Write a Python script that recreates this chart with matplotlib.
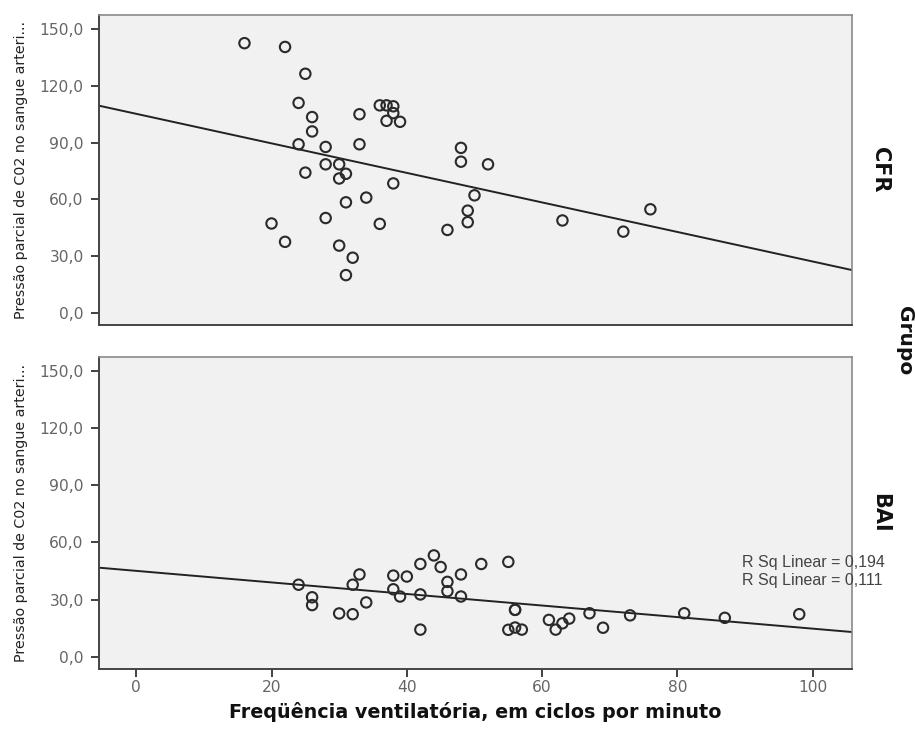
import numpy as np
import matplotlib
matplotlib.use("Agg")
import matplotlib.pyplot as plt
from matplotlib.ticker import FuncFormatter

plt.rcParams['font.family'] = ['DejaVu Sans']

# Frequência ventilatória (ciclos/min) e PaCO2 por grupo
cfr_freq = [16, 22, 25, 24, 26, 26, 24, 28, 33, 33, 36, 37, 38, 38, 37, 39,
            48, 48, 52, 28, 30, 25, 31, 30, 38, 50, 34, 31, 49, 49, 28, 36,
            46, 20, 22, 30, 32, 31, 63, 72, 76]
cfr_paco2 = [142.6, 140.6, 126.4, 111.0, 103.5, 95.9, 89.1, 87.7, 105.0, 89.1,
             109.7, 109.7, 109.2, 105.6, 101.5, 101.0, 87.2, 79.9, 78.5, 78.5,
             78.5, 74.1, 73.5, 71.0, 68.4, 62.1, 60.9, 58.4, 54.0, 47.9, 50.1,
             47.0, 43.8, 47.2, 37.5, 35.5, 29.1, 19.9, 48.8, 42.9, 54.7]

bai_freq = [24, 26, 26, 30, 32, 32, 33, 34, 38, 40, 38, 39, 42, 42, 42, 44,
            45, 46, 46, 48, 48, 51, 55, 56, 56, 55, 56, 57, 61, 62, 63, 64,
            67, 69, 73, 81, 87, 98]
bai_paco2 = [37.8, 31.2, 27.1, 22.7, 22.3, 37.8, 43.2, 28.5, 42.6, 42.1, 35.4,
             31.6, 48.7, 32.7, 14.2, 53.2, 47.1, 39.3, 34.4, 43.2, 31.6, 48.7,
             49.8, 24.6, 24.6, 14.1, 15.3, 14.2, 19.3, 14.2, 17.5, 20.0, 22.8,
             15.2, 21.7, 22.8, 20.4, 22.3]

groups = ["CFR", "BAI"]
rsq_labels = ["R Sq Linear = 0,194", "R Sq Linear = 0,111"]
x_ticks = [0, 20, 40, 60, 80, 100]
y_ticks = [0, 30, 60, 90, 120, 150]

W, H = 915, 739
fig = plt.figure(figsize=(W / 100, H / 100), dpi=100)
fig.patch.set_facecolor("white")

def px_axes(left, top, right, bottom):
    return fig.add_axes([left / W, 1 - bottom / H, (right - left) / W, (bottom - top) / H])

ax_top = px_axes(99, 15, 852, 325)
ax_bot = px_axes(99, 357, 852, 669)

xlim = (-5.5, 105.8)
ylim = (-6.5, 157.5)
comma = FuncFormatter(lambda v, p: f"{v:.1f}".replace(".", ","))

for ax, xs, ys, name in [(ax_top, cfr_freq, cfr_paco2, groups[0]),
                         (ax_bot, bai_freq, bai_paco2, groups[1])]:
    ax.set_facecolor("#f1f1f1")
    ax.scatter(xs, ys, s=56, facecolors="none", edgecolors="#2a2a2a",
               linewidths=1.5, zorder=3)
    slope, intercept = np.polyfit(xs, ys, 1)
    lx = np.array(xlim)
    ax.plot(lx, intercept + slope * lx, color="#222222", lw=1.4, zorder=2)
    ax.set_xlim(*xlim)
    ax.set_ylim(*ylim)
    ax.set_yticks(y_ticks)
    ax.yaxis.set_major_formatter(comma)
    ax.set_xticks(x_ticks)
    ax.tick_params(axis="both", direction="out", length=6, width=1.3,
                   color="#333333", labelcolor="#666666", labelsize=11.2, pad=5)
    ax.tick_params(axis="x", pad=2)
    for side in ["top", "right"]:
        ax.spines[side].set_color("#8a8a8a")
        ax.spines[side].set_linewidth(1.2)
    for side in ["left", "bottom"]:
        ax.spines[side].set_color("#444444")
        ax.spines[side].set_linewidth(1.4)
    ax.set_ylabel("Pressão parcial de C02 no sangue arteri...", fontsize=10.3,
                  color="#222222", labelpad=8)
    ax.text(1.024, 0.5, name, transform=ax.transAxes, rotation=-90,
            ha="left", va="center", fontsize=15, fontweight="bold", color="#111111")

ax_top.tick_params(axis="x", bottom=False, labelbottom=False)
ax_bot.set_xlabel("Freqüência ventilatória, em ciclos por minuto", fontsize=13.8,
                  fontweight="bold", color="#111111", labelpad=5)

fig.text(905 / W, 1 - 341 / H, "Grupo", rotation=-90, ha="center", va="center",
         fontsize=14.5, fontweight="bold", color="#111111")

rsq_font = ['Liberation Sans', 'DejaVu Sans']
fig.text(742 / W, 1 - 563 / H, rsq_labels[0], ha="left", va="center",
         fontsize=11.5, color="#444444", family=rsq_font, zorder=5)
fig.text(742 / W, 1 - 581 / H, rsq_labels[1], ha="left", va="center",
         fontsize=11.5, color="#444444", family=rsq_font, zorder=5)

fig.savefig("out.png", dpi=100, facecolor="white")
